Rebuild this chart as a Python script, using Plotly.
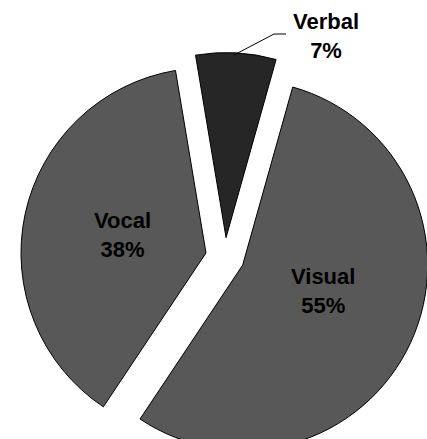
import plotly.graph_objects as go

labels = ["Verbal", "Visual", "Vocal"]
values = [7, 55, 38]
colors = ["#262626", "#585858", "#585858"]
pulls = [0.105, 0.105, 0.105]

W, H = 436, 470
R = 185
CX, CY = 225, 257
BOX = R * (2 + 2 * max(pulls))

def px(x, y):
    return x / W, (H - y) / H

FONT = dict(family="Liberation Sans, Arial", size=22, color="#000000", weight="bold")

fig = go.Figure(go.Pie(
    labels=labels,
    values=values,
    sort=False,
    direction="clockwise",
    rotation=-9.5,
    pull=pulls,
    marker=dict(colors=colors, line=dict(color="#000000", width=1)),
    textinfo="none",
    domain=dict(x=[(CX - BOX / 2) / W, (CX + BOX / 2) / W],
                y=[(H - CY - BOX / 2) / H, (H - CY + BOX / 2) / H]),
    hoverinfo="skip",
    showlegend=False,
))

label_pos = [(326, 36), (323, 291), (123, 235)]
for lab, val, (lx, ly) in zip(labels, values, label_pos):
    ax, ay = px(lx, ly)
    fig.add_annotation(
        x=ax, y=ay, xref="paper", yref="paper",
        text=f"{lab}<br>{val}%",
        showarrow=False,
        font=FONT,
        xanchor="center", yanchor="middle",
    )

p0, p1, p2 = px(234, 55), px(274, 34), px(286, 34)
fig.add_shape(
    type="path", xref="paper", yref="paper",
    path=f"M {p0[0]},{p0[1]} L {p1[0]},{p1[1]} L {p2[0]},{p2[1]}",
    line=dict(color="#000000", width=1),
)

fig.update_layout(
    width=W, height=H,
    margin=dict(l=0, r=0, t=0, b=0),
    paper_bgcolor="#ffffff",
    plot_bgcolor="#ffffff",
)

fig.write_html("out.html")
